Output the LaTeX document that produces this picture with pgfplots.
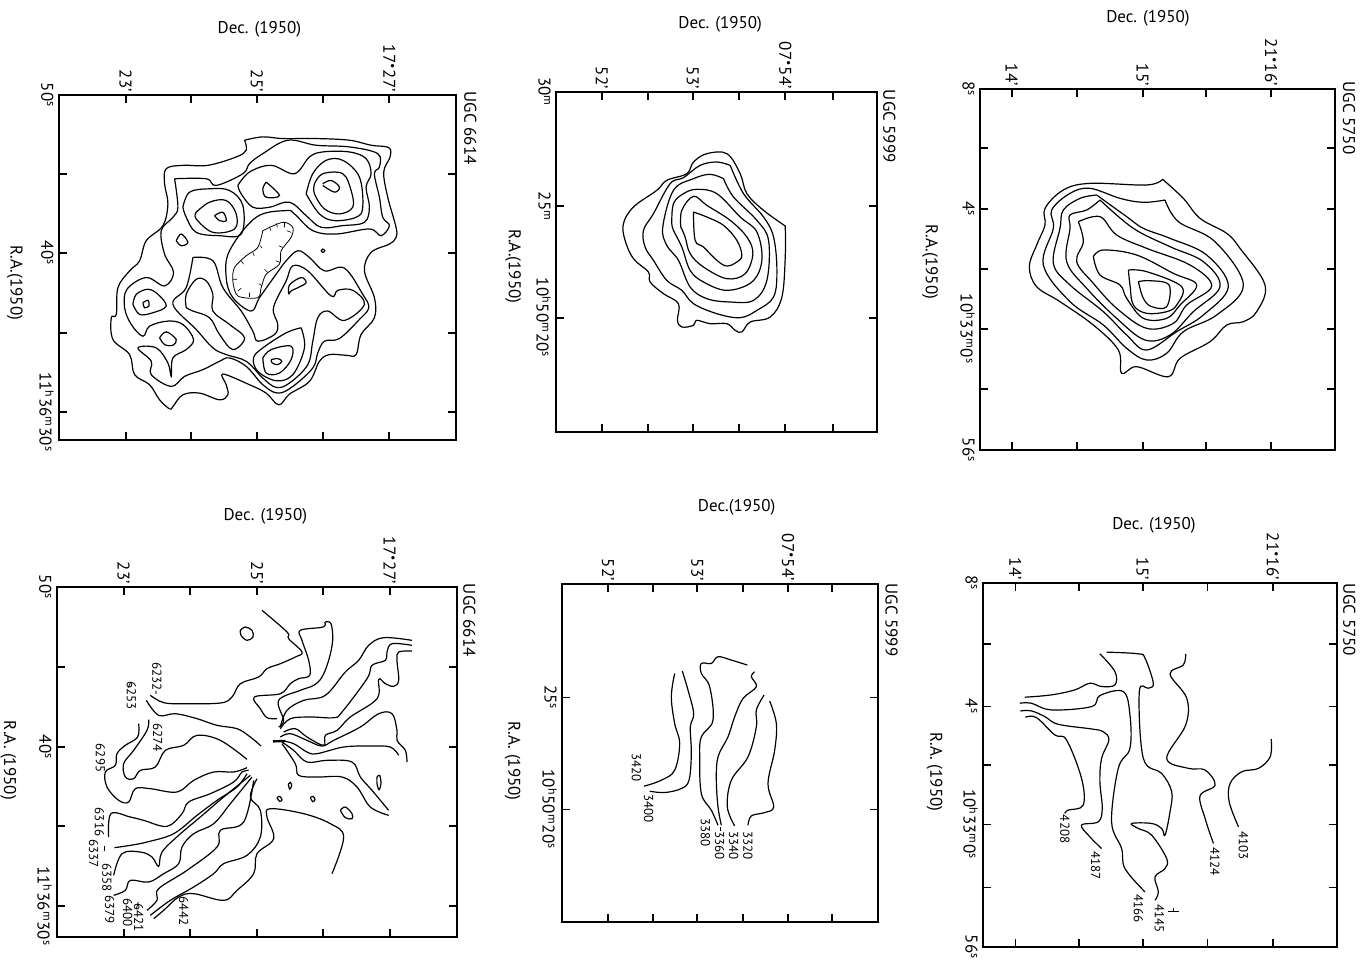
\documentclass[border=0pt]{standalone}
\usepackage{fontspec}
\setmainfont{PT Sans}
\usepackage{pgfplots}
\pgfplotsset{compat=1.18}
\pgfplotsset{
 every axis title shift=0pt,
 panel/.style={scale only axis, clip=false, y dir=reverse, axis on top=false,
  anchor=north west, tick align=inside, major tick length=4pt,
  xtick pos=both, ytick pos=both, xticklabel pos=upper, yticklabel pos=left,
  axis line style={line width=0.8pt}, tick style={black,line width=0.9pt},
  xticklabel style={rotate=-90,anchor=east,font=\fontsize{8.5}{8.5}\selectfont,inner sep=1.5pt},
  yticklabel style={rotate=-90,anchor=north,font=\fontsize{8.5}{8.5}\selectfont,inner sep=2.5pt},
  title style={font=\fontsize{8.5}{9}\selectfont,anchor=center,inner sep=0pt},
  ylabel style={font=\fontsize{8.5}{9}\selectfont,rotate=180,anchor=center,inner sep=0pt},
 },
 cont/.style={black,line width=0.6pt,smooth,tension=0.6,mark=none},
 hatch/.style={black,line width=0.3pt,mark=none,unbounded coords=jump},
 lead/.style={black,line width=0.4pt,mark=none},
}
\newcommand{\C}[1]{\addplot[cont] coordinates {#1};}
\newcommand{\UGC}[3]{\node[rotate=-90,font=\fontsize{8.5}{9}\selectfont,inner sep=0pt] at (axis cs:#1,#2) {UGC #3};}
\newcommand{\LB}[3]{\node[rotate=-90,font=\fontsize{6.5}{6.5}\selectfont,inner sep=0pt] at (axis cs:#1,#2) {#3};}
\newcommand{\Sp}[1]{\textsuperscript{#1}}
\begin{document}
\begin{tikzpicture}
\useasboundingbox (0,0) rectangle (682.5pt,-479.5pt);
% Panel A: UGC 6614 map
\begin{axis}[panel, at={(59*0.5pt,-95*0.5pt)}, width=397*0.5pt, height=345*0.5pt,
 xmin=28,xmax=1220,ymin=15,ymax=1045,
 xtick={228,425,622,820,1020}, xticklabels={23',,25',,17\Sp{•}27'},
 ytick={15,250,487,725,962}, yticklabels={50\Sp{s},,40\Sp{s},,11\Sp{h}36\Sp{m}30\Sp{s}},
 title={Dec. (1950)}, title style={at={(axis cs:630,-180)}},
 ylabel={R.A.(1950)}, ylabel style={at={(axis cs:-105,576)}}]
\C{(585,150) (640,140) (700,145) (800,145) (900,150) (965,165) (1018,172) (1022,200) (1003,245) (1015,320) (1040,410) (1040,440) (1020,460) (965,485) (945,540) (975,620) (975,680) (935,730) (920,790) (890,792) (840,790) (810,810) (780,870) (720,908) (688,940) (650,905) (600,880) (520,848) (530,880) (535,910) (510,925) (450,905) (400,910) (370,945) (360,952) (330,925) (300,880) (255,850) (240,790) (190,745) (185,680) (200,670) (205,590) (240,540) (270,510) (290,450) (340,405) (355,340) (345,280) (350,235) (400,225) (475,225) (560,200) (590,180) (585,150)}
\C{(375,265) (470,265) (500,285) (580,250) (600,220) (640,190) (715,150) (800,165) (900,170) (985,190) (990,230) (975,250) (990,320) (1000,380) (1020,405) (995,435) (960,415) (860,430) (790,420) (735,370) (710,360) (620,380) (540,480) (530,560) (550,620) (605,660) (630,620) (680,550) (710,510) (745,480) (780,500) (825,540) (885,532) (940,610) (958,650) (930,685) (870,742) (825,750) (805,785) (790,830) (730,885) (685,905) (640,880) (590,825) (540,800) (510,810) (460,835) (405,855) (365,885) (305,850) (305,810) (265,770) (320,770) (355,815) (365,855) (370,800) (410,775) (432,745) (400,700) (355,690) (300,705) (280,735) (245,700) (225,650) (232,595) (290,560) (345,585) (372,545) (345,490) (335,420) (370,380) (385,350) (375,265)}
\C{(430,500) (490,510) (520,590) (575,660) (610,720) (625,750) (675,730) (685,700) (672,650) (710,570) (730,525) (775,540) (845,615) (865,598) (910,598) (945,640) (885,688) (835,660) (805,680) (790,750) (775,820) (720,875) (680,888) (640,860) (590,810) (530,790) (490,770) (440,715) (370,640) (410,590) (430,500)}
\C{(755,710) (710,725) (640,770) (612,800) (625,840) (680,868) (730,850) (765,770) (755,710)}
\C{(640,800) (665,775) (725,765) (725,805) (690,845) (650,845) (640,800)}
\C{(665,805) (685,802) (697,810) (685,820) (668,815) (665,805)}
\C{(410,650) (410,610) (440,565) (470,570) (490,610) (490,660) (540,700) (585,740) (550,775) (510,730) (480,680) (430,660) (410,650)}
\C{(820,280) (845,270) (870,290) (855,305) (820,285)}
\C{(795,280) (820,250) (880,250) (905,300) (910,350) (870,370) (825,355) (795,310) (795,280)}
\C{(770,310) (790,250) (830,210) (880,210) (930,260) (940,350) (920,380) (855,390) (810,370) (770,310)}
\C{(565,285) (600,245) (665,225) (735,250) (780,200) (820,185) (900,185) (950,205) (965,250) (950,290) (960,350) (945,395) (880,405) (815,410) (770,375) (720,335) (660,350) (610,350) (575,310) (565,285)}
\C{(650,275) (690,315) (650,320) (640,295) (650,275)}
\C{(495,375) (520,365) (530,390) (510,390) (495,375)}
\C{(440,365) (480,335) (530,330) (560,370) (555,415) (490,425) (440,385) (440,365)}
\C{(400,350) (420,305) (480,295) (540,300) (580,345) (575,430) (510,435) (440,425) (410,380) (400,350)}
\C{(380,450) (395,430) (415,455) (395,465) (380,450)}
\C{(250,640) (260,610) (295,595) (325,610) (350,645) (310,665) (270,670) (250,640)}
\C{(280,635) (295,628) (298,645) (285,650) (280,635)}
\C{(330,740) (350,722) (380,745) (370,762) (345,760) (330,740)}
\C{(815,480) (820,475) (826,480) (820,485) (815,480)}
\C{(718,610) (720,582) (755,560) (770,575) (750,588) (725,600) (718,610)}
\addplot[black,line width=0.4pt,mark=none,smooth] coordinates {(640,420) (700,395) (730,410) (725,440) (695,480) (690,520) (650,550) (635,590) (625,620) (565,615) (550,570) (555,530) (590,495) (625,470) (640,420)};
\addplot[hatch] coordinates {(660,408) (664,420) (nan,nan) (680,398) (684,410) (nan,nan) (705,397) (705,410) (nan,nan) (725,425) (712,420) (nan,nan) (700,470) (688,465) (nan,nan) (692,515) (680,510) (nan,nan) (655,545) (645,535) (nan,nan) (638,585) (628,578) (nan,nan) (600,618) (600,605) (nan,nan) (565,600) (575,592) (nan,nan) (550,565) (562,565) (nan,nan) (575,510) (582,520) (nan,nan) (610,485) (614,495) (nan,nan) (632,465) (638,472)};
\UGC{1263}{114}{6614}
\end{axis}
% Panel B: UGC 5999 map
\begin{axis}[panel, at={(556*0.5pt,-92*0.5pt)}, width=321*0.5pt, height=340*0.5pt,
 xmin=18,xmax=980,ymin=5,ymax=1025,
 xtick={155,293,428,567,705,847}, xticklabels={52',,53',,07\Sp{•}54',},
 ytick={5,348,682}, yticklabels={30\Sp{m},25\Sp{m},10\Sp{h}50\Sp{m}20\Sp{s}},
 title={Dec. (1950)}, title style={at={(axis cs:510,-198)}},
 ylabel={R.A.(1950)}, ylabel style={at={(axis cs:-111,528)}}]
\C{(705,407) (705,500) (695,620) (660,680) (600,695) (575,725) (555,720) (530,700) (480,700) (440,690) (430,705) (395,710) (382,690) (385,640) (340,610) (300,575) (295,545) (250,505) (225,450) (220,400) (250,350) (320,300) (350,270) (410,250) (430,215) (470,190) (530,190) (570,250) (590,310) (640,360) (705,407)}
\C{(540,225) (580,310) (640,380) (670,440) (680,540) (670,620) (620,660) (570,682) (500,670) (430,640) (395,600) (350,570) (310,510) (285,470) (280,420) (310,370) (360,280) (400,262) (450,225) (500,215) (540,225)}
\C{(520,265) (550,320) (620,390) (655,450) (650,570) (610,630) (540,635) (470,625) (420,590) (385,510) (350,465) (338,410) (370,300) (430,265) (480,252) (520,265)}
\C{(365,400) (370,340) (400,310) (440,297) (500,310) (570,380) (620,425) (635,510) (605,575) (530,600) (460,575) (420,540) (395,470) (370,420) (365,400)}
\C{(392,410) (395,360) (430,318) (470,345) (540,390) (590,440) (608,490) (585,550) (530,565) (460,530) (420,490) (405,440) (392,410)}
\C{(430,365) (470,380) (520,405) (560,450) (575,495) (560,515) (530,527) (500,510) (460,470) (435,450) (430,365)}
\UGC{1017}{108}{5999}
\end{axis}
% Panel C: UGC 5750 map
\begin{axis}[panel, at={(980*0.5pt,-89*0.5pt)}, width=355*0.5pt, height=361*0.5pt,
 xmin=30,xmax=1095,ymin=12,ymax=1095,
 xtick={125,322,518,708,903}, xticklabels={14',,15',,21\Sp{•}16'},
 ytick={12,190,372,552,732,913,1095}, yticklabels={8\Sp{s},,4\Sp{s},,10\Sp{h}33\Sp{m}0\Sp{s},,56\Sp{s}},
 title={Dec. (1950)}, title style={at={(axis cs:534,-201)}},
 ylabel={R.A.(1950)}, ylabel style={at={(axis cs:-120,531)}}]
\C{(578,283) (640,340) (690,400) (770,445) (810,490) (885,600) (860,680) (820,710) (770,720) (720,770) (630,820) (595,875) (500,845) (455,865) (445,795) (370,720) (270,650) (200,605) (178,545) (200,480) (225,420) (225,370) (280,315) (360,295) (530,300) (578,283)}
\C{(585,345) (625,410) (735,470) (820,600) (740,690) (640,740) (590,805) (530,825) (470,790) (400,720) (300,650) (220,540) (250,430) (245,375) (300,325) (360,310) (450,340) (520,352) (585,345)}
\C{(380,330) (470,395) (520,430) (600,460) (710,510) (775,605) (700,690) (620,740) (530,795) (470,750) (400,680) (300,600) (250,535) (270,430) (280,375) (330,340) (380,330)}
\C{(390,345) (490,430) (600,485) (700,530) (750,605) (670,680) (600,750) (525,765) (440,700) (350,610) (290,530) (300,430) (300,390) (350,375) (390,345)}
\C{(325,410) (390,395) (440,450) (530,490) (660,540) (725,603) (650,660) (610,715) (530,730) (440,670) (370,595) (320,530) (340,470) (325,410)}
\C{(370,515) (400,495) (500,510) (610,565) (680,600) (630,660) (590,700) (520,700) (470,640) (450,600) (390,570) (370,515)}
\C{(475,555) (530,560) (635,605) (620,660) (590,680) (530,685) (490,660) (480,600) (475,555)}
\C{(505,590) (540,587) (597,600) (590,665) (545,665) (520,640) (505,590)}
\UGC{1137}{99}{5750}
\end{axis}
% Panel D: UGC 6614 velocity
\begin{axis}[panel, at={(57*0.5pt,-587*0.5pt)}, width=400*0.5pt, height=350*0.5pt,
 xmin=20,xmax=1220,ymin=20,ymax=1070,
 xtick={220,420,620,818,1018}, xticklabels={23',,25',,17\Sp{•}27'},
 ytick={20,260,500,738,978}, yticklabels={50\Sp{s},,40\Sp{s},,11\Sp{h}36\Sp{m}30\Sp{s}},
 title={Dec. (1950)}, title style={at={(axis cs:645,-192)}},
 ylabel={R.A. (1950)}, ylabel style={at={(axis cs:-126,540)}}]
\C{(635,90) (710,155) (715,175) (755,215) (735,230) (690,250) (650,265) (625,290) (570,310) (545,350) (510,368) (400,370) (340,367) (300,345)}
\C{(288,360) (325,405) (375,400) (440,415) (500,435) (560,445) (600,470) (632,497)}
\C{(265,430) (262,470) (225,495) (200,520) (195,555) (165,575) (170,620) (205,660) (235,665) (255,625) (300,625) (380,635) (430,600) (490,575) (550,575) (590,562)}
\C{(295,418) (290,450) (250,510) (220,550) (225,590) (250,595) (270,570) (315,560) (345,510) (400,495) (440,465) (510,480) (590,537)}
\C{(175,770) (182,700) (240,710) (280,720) (350,738) (395,700) (415,665) (480,640) (550,605) (575,575) (595,570)}
\C{(192,802) (240,795) (290,785) (370,760) (440,705) (500,660) (560,620) (590,580)}
\C{(190,885) (215,820) (270,815) (305,830) (325,858) (335,815) (385,765) (450,710) (520,650) (600,585)}
\C{(190,945) (225,930) (240,900) (295,905) (340,880) (385,850) (395,800) (430,760) (490,730) (540,670) (605,590)}
\C{(290,990) (320,960) (325,925) (410,870) (500,800) (510,750) (580,725) (610,600)}
\C{(300,1005) (360,960) (430,920) (490,880) (520,850) (590,825) (630,770) (630,690) (600,650) (620,595)}
\C{(310,1015) (340,990) (385,950) (430,940) (520,960) (560,930) (610,880) (620,820) (670,775) (650,710) (660,685) (760,700) (840,730) (880,770) (845,880)}
\C{(823,125) (818,140) (750,150) (755,180) (775,240) (778,285) (745,295) (720,310) (690,340) (612,350) (630,385) (650,412) (680,415)}
\C{(825,125) (842,130) (847,180) (835,240) (815,290) (790,315) (750,330) (685,360) (700,420) (685,440)}
\C{(1085,180) (1000,172) (955,195) (925,240) (885,275) (825,345) (760,360) (710,390) (690,440)}
\C{(1085,195) (1025,190) (1010,215) (1005,240) (965,255) (950,295) (875,395) (850,412) (780,410) (720,415) (690,445)}
\C{(1085,212) (1045,215) (1040,240) (1045,300) (1030,318) (1005,310) (985,297) (980,355) (900,410) (860,450) (825,465) (820,495) (770,470) (735,445) (700,455)}
\C{(690,470) (720,460) (770,480) (815,497) (850,480) (930,440) (985,400) (1025,400) (1040,450) (1040,480) (1065,510) (1070,545)}
\C{(1045,525) (1020,500) (960,497) (880,500) (800,520) (770,515) (730,490) (690,480)}
\C{(1015,690) (965,630) (930,590) (905,545) (830,540) (770,545) (730,510) (695,485)}
\C{(1015,705) (960,680) (920,620) (875,590) (800,590) (745,585) (735,550) (695,490)}
\addplot[black,line width=1.2pt,mark=none] coordinates {(668,483) (705,482)};
\C{(570,150) (585,140) (605,150) (608,170) (590,180) (572,165) (570,150)}
\C{(980,590) (988,585) (992,610) (986,628) (980,610) (980,590)}
\C{(870,690) (885,680) (905,700) (905,715) (885,712) (870,690)}
\C{(714,612) (720,606) (724,616) (718,626) (714,612)}
\C{(680,652) (688,648) (695,658) (688,663) (680,652)}
\C{(780,652) (788,648) (794,658) (787,664) (780,652)}
\addplot[lead] coordinates {(163,797) (163,812)};
\addplot[lead] coordinates {(264,965) (258,985)};
\addplot[lead] coordinates {(240,308) (233,322)};
\LB{320}{295}{6232-} \LB{243}{345}{6253} \LB{322}{472}{6274} \LB{150}{533}{6295}
\LB{147}{725}{6316} \LB{130}{820}{6337} \LB{170}{892}{6358} \LB{178}{987}{6379}
\LB{232}{997}{6400} \LB{265}{1012}{6421} \LB{400}{992}{6442}
\UGC{1257}{120}{6614}
\end{axis}
% Panel E: UGC 5999 velocity
\begin{axis}[panel, at={(562*0.5pt,-584*0.5pt)}, width=316*0.5pt, height=338*0.5pt,
 xmin=22,xmax=970,ymin=12,ymax=1025,
 xtick={160,295,428,565,700,833}, xticklabels={52',,53',,07\Sp{•}54',},
 ytick={352,688}, yticklabels={25\Sp{s},10\Sp{h}50\Sp{m}20\Sp{s}},
 title={Dec.(1950)}, title style={at={(axis cs:546,-219)}},
 ylabel={R.A. (1950)}, ylabel style={at={(axis cs:-126,543)}}]
\C{(360,280) (350,350) (360,430) (375,490) (360,570) (320,600) (268,618)}
\C{(383,273) (400,330) (417,400) (407,440) (410,520) (403,600) (380,625) (330,637) (285,633)}
\C{(578,255) (530,240) (490,230) (470,250) (440,250) (440,280) (465,320) (475,420) (440,470) (435,530) (440,640) (470,690) (490,735)}
\C{(600,275) (590,290) (605,320) (565,355) (540,410) (520,470) (490,530) (485,600) (490,680) (500,735)}
\C{(628,345) (605,390) (605,440) (580,530) (530,600) (518,680) (540,737)}
\C{(645,363) (665,430) (660,510) (640,610) (657,680) (630,697) (590,707) (580,735)}
\addplot[lead] coordinates {(497,740) (497,752)};
\LB{245}{562}{3420} \LB{282}{685}{3400} \LB{452}{757}{3380} \LB{495}{795}{3360}
\LB{537}{795}{3340} \LB{580}{795}{3320}
\UGC{1011}{120}{5999}
\end{axis}
% Panel F: UGC 5750 velocity
\begin{axis}[panel, at={(983*0.5pt,-583*0.5pt)}, width=354*0.5pt, height=364*0.5pt,
 xmin=25,xmax=1085,ymin=25,ymax=1115,
 xtick={122,313,503,697,893}, xticklabels={14',,15',,21\Sp{•}16'},
 ytick={25,207,395,570,748,937,1115}, yticklabels={8\Sp{s},,4\Sp{s},,10\Sp{h}33\Sp{m}0\Sp{s},,56\Sp{s}},
 title={Dec. (1950)}, title style={at={(axis cs:537,-147)}},
 ylabel={R.A. (1950)}, ylabel style={at={(axis cs:-120,591)}}]
\C{(888,492) (885,545) (850,580) (800,590) (765,625) (762,680) (790,755)}
\C{(632,237) (625,270) (585,298) (635,370) (632,450) (575,550) (640,580) (690,585) (720,630) (675,662) (690,730) (715,805)}
\C{(395,232) (490,237) (510,250) (535,325) (520,340) (493,350) (505,550) (560,595) (590,650) (585,710) (570,780) (560,760) (530,745) (470,745) (490,760) (530,780) (575,850) (570,880) (540,905) (550,950) (540,975)}
\C{(375,237) (420,290) (420,330) (380,335) (345,325) (300,345) (230,360) (150,367)}
\C{(135,385) (170,385) (230,405) (350,395) (375,362) (445,350) (465,420) (465,520) (430,580) (410,740) (440,820) (450,880) (510,950)}
\C{(137,408) (170,408) (210,425) (250,448) (350,462) (385,470) (402,495) (380,550) (375,620) (382,700) (370,740) (320,750) (345,785) (380,820)}
\C{(152,427) (185,428) (240,480) (275,495) (320,610) (325,690) (280,705) (270,715)}
\addplot[lead] coordinates {(580,1007) (612,1007)};
\addplot[lead] coordinates {(595,998) (595,1007)};
\LB{805}{812}{4103} \LB{720}{860}{4124} \LB{553}{1030}{4145} \LB{490}{1000}{4166}
\LB{362}{870}{4187} \LB{270}{762}{4208}
\UGC{1122}{135}{5750}
\end{axis}
\end{tikzpicture}
\end{document}
